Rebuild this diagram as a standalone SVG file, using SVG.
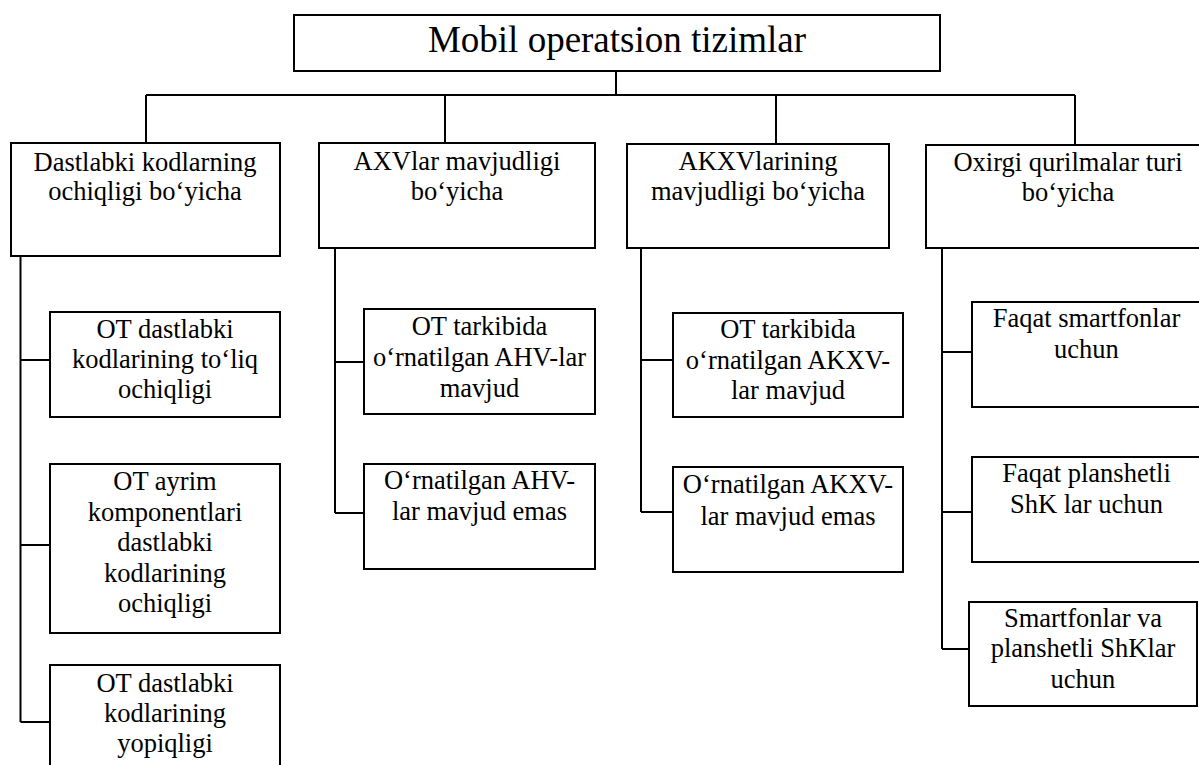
<svg xmlns="http://www.w3.org/2000/svg" width="1199" height="765" viewBox="0 0 1199 765">
<style>
.box{fill:#fff;stroke:#000;stroke-width:2}
.t{font-family:"Liberation Serif","Times New Roman",serif;font-size:26.5px;fill:#000;text-anchor:middle}
.title{font-size:37px}
.c{fill:none;stroke:#000;stroke-width:2}
</style>
<rect width="1199" height="765" fill="#fff"/>
<g id="connectors">
<path class="c" d="M616,71 V95 M146,95 H1075 M146,95 V143 M445,95 V143 M776,95 V144 M1075,95 V145"/>
<path class="c" d="M20.5,256 V722 M20.5,360 H50 M20.5,545 H50 M20.5,722 H50"/>
<path class="c" d="M335,248 V513 M335,362 H364 M335,513 H364"/>
<path class="c" d="M641,248 V512 M641,360 H673 M641,512 H673"/>
<path class="c" d="M942,248 V649 M942,352 H972 M942,512 H972 M942,649 H969"/>
</g>
<g id="root">
<rect class="box" x="294" y="15" width="646" height="56"/>
<text class="t title" x="617" y="52">Mobil operatsion tizimlar</text>
</g>
<g id="cat1">
<rect class="box" x="11" y="143" width="269" height="113"/>
<text class="t" x="145" y="171">Dastlabki kodlarning</text>
<text class="t" x="145" y="200">ochiqligi bo‘yicha</text>
</g>
<g id="cat2">
<rect class="box" x="319" y="143" width="276" height="105"/>
<text class="t" x="457" y="170">AXVlar mavjudligi</text>
<text class="t" x="457" y="200">bo‘yicha</text>
</g>
<g id="cat3">
<rect class="box" x="627" y="144" width="262" height="104"/>
<text class="t" x="758" y="170">AKXVlarining</text>
<text class="t" x="758" y="200">mavjudligi bo‘yicha</text>
</g>
<g id="cat4">
<rect class="box" x="926" y="145" width="284" height="103"/>
<text class="t" x="1068" y="171">Oxirgi qurilmalar turi</text>
<text class="t" x="1068" y="201">bo‘yicha</text>
</g>
<g id="c1a">
<rect class="box" x="50" y="312" width="230" height="105"/>
<text class="t" x="165" y="338">OT dastlabki</text>
<text class="t" x="165" y="368">kodlarining to‘liq</text>
<text class="t" x="165" y="398">ochiqligi</text>
</g>
<g id="c1b">
<rect class="box" x="50" y="464" width="230" height="169"/>
<text class="t" x="165" y="490">OT ayrim</text>
<text class="t" x="165" y="520.5">komponentlari</text>
<text class="t" x="165" y="551">dastlabki</text>
<text class="t" x="165" y="581.5">kodlarining</text>
<text class="t" x="165" y="612">ochiqligi</text>
</g>
<g id="c1c">
<rect class="box" x="50" y="665" width="230" height="110"/>
<text class="t" x="165" y="691.5">OT dastlabki</text>
<text class="t" x="165" y="721.5">kodlarining</text>
<text class="t" x="165" y="751.5">yopiqligi</text>
</g>
<g id="c2a">
<rect class="box" x="364" y="309" width="231" height="105"/>
<text class="t" x="479.5" y="335">OT tarkibida</text>
<text class="t" x="479.5" y="366">o‘rnatilgan AHV-lar</text>
<text class="t" x="479.5" y="396.5">mavjud</text>
</g>
<g id="c2b">
<rect class="box" x="364" y="464" width="231" height="105"/>
<text class="t" x="479.5" y="488.5">O‘rnatilgan AHV-</text>
<text class="t" x="479.5" y="519.5">lar mavjud emas</text>
</g>
<g id="c3a">
<rect class="box" x="673" y="313" width="230" height="104"/>
<text class="t" x="788" y="338">OT tarkibida</text>
<text class="t" x="788" y="368.5">o‘rnatilgan AKXV-</text>
<text class="t" x="788" y="399">lar mavjud</text>
</g>
<g id="c3b">
<rect class="box" x="673" y="467" width="230" height="105"/>
<text class="t" x="788" y="493">O‘rnatilgan AKXV-</text>
<text class="t" x="788" y="524.5">lar mavjud emas</text>
</g>
<g id="c4a">
<rect class="box" x="972" y="302" width="229" height="105"/>
<text class="t" x="1086.5" y="327">Faqat smartfonlar</text>
<text class="t" x="1086.5" y="358">uchun</text>
</g>
<g id="c4b">
<rect class="box" x="972" y="457" width="229" height="105"/>
<text class="t" x="1086.5" y="482">Faqat planshetli</text>
<text class="t" x="1086.5" y="513">ShK lar uchun</text>
</g>
<g id="c4c">
<rect class="box" x="969" y="602" width="228" height="104"/>
<text class="t" x="1083" y="626.5">Smartfonlar va</text>
<text class="t" x="1083" y="657">planshetli ShKlar</text>
<text class="t" x="1083" y="688">uchun</text>
</g>
</svg>
